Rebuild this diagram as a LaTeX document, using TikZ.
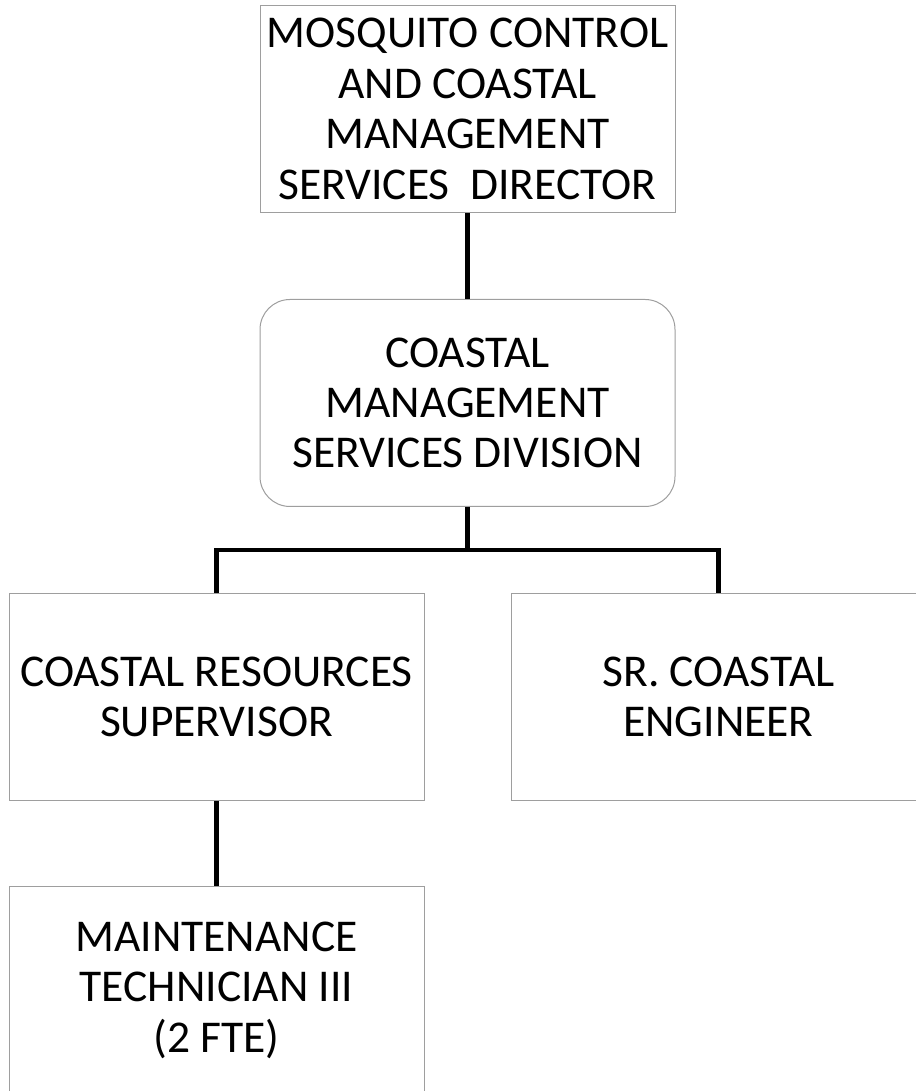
\documentclass[tikz,border=0pt]{standalone}
\usepackage{fontspec}
\setmainfont{Carlito}
\usepackage{tikz}
\usetikzlibrary{positioning,calc}

\tikzset{
    post/.style={draw=black!38, line width=1pt, fill=white, align=center,
        minimum width=415pt, minimum height=207pt, inner sep=0pt,
        font=\fontsize{45.5}{50.4}\selectfont},
    link/.style={line width=4.5pt, black}
}

\begin{document}
\begin{tikzpicture}[x=1pt,y=1pt]
    \useasboundingbox (0,0) rectangle (915,1091);

    % Director
    \node[post] (dir) at (467.5,982) {MOSQUITO CONTROL\\AND COASTAL\\MANAGEMENT\\SERVICES\ \ DIRECTOR};

    % Division
    \node[post, rounded corners=30pt] (div) at (467.5,688) {COASTAL\\MANAGEMENT\\SERVICES DIVISION};

    % Staff
    \node[post] (sup) at (216.5,394) {COASTAL RESOURCES\\SUPERVISOR};
    \node[post] (eng) at (718.5,394) {SR. COASTAL\\ENGINEER};
    \node[post] (tech) at (216.5,101) {MAINTENANCE\\TECHNICIAN III\\(2 FTE)};

    % Connectors
    \coordinate (bus) at (467.5,541);
    \draw[link] (dir) -- (div);
    \draw[link] (div) -- (bus);
    \draw[link] (sup.north) |- (bus) -| (eng.north);
    \draw[link] (sup) -- (tech);
\end{tikzpicture}
\end{document}
